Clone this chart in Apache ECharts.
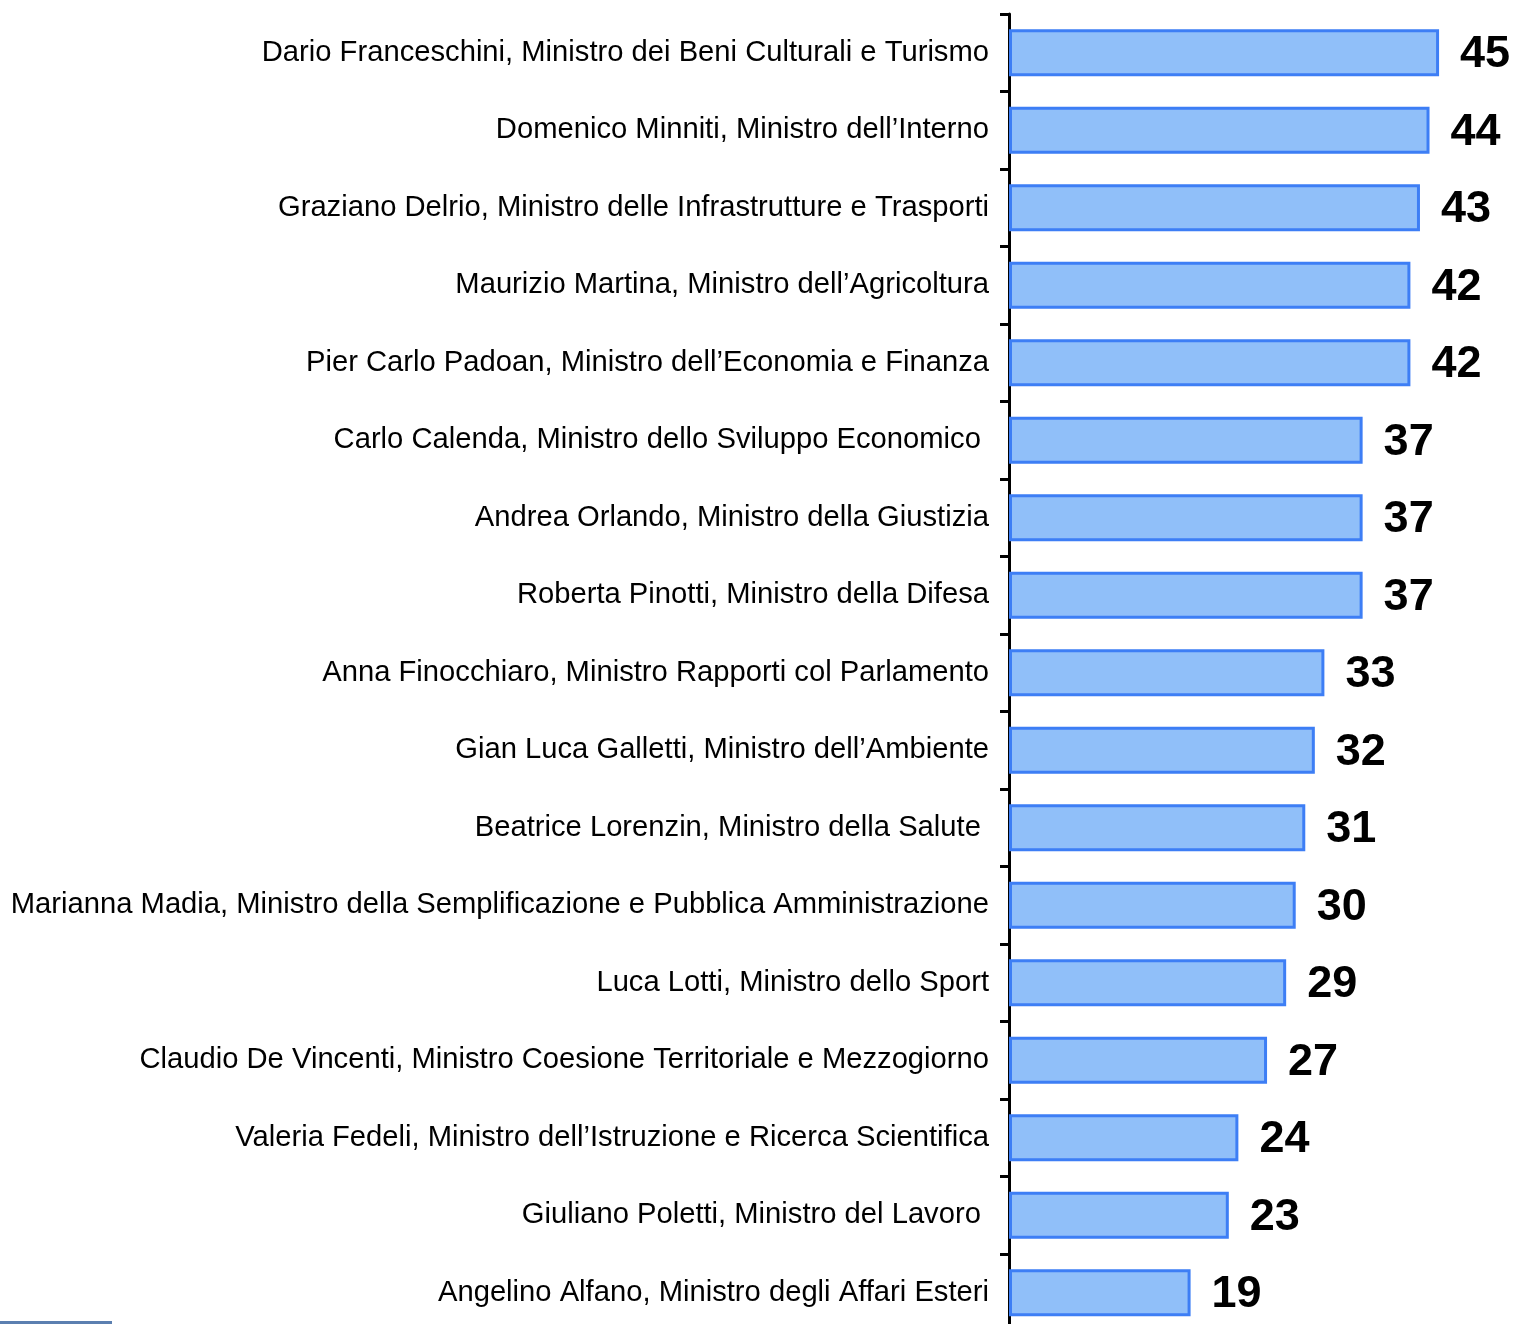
<!DOCTYPE html>
<html>
<head>
<meta charset="utf-8">
<script src="https://cdn.jsdelivr.net/npm/echarts@6/dist/echarts.min.js"></script>
<style>
  html, body { margin: 0; padding: 0; background: #fff; overflow: hidden; }
  #chart { width: 1514px; height: 1340px; }
</style>
</head>
<body>
<div id="chart"></div>
<script>
// ministri (dall'alto verso il basso)
const ministri = [
  'Dario Franceschini, Ministro dei Beni Culturali e Turismo',
  'Domenico Minniti, Ministro dell\u2019Interno',
  'Graziano Delrio, Ministro delle Infrastrutture e Trasporti',
  'Maurizio Martina, Ministro dell\u2019Agricoltura',
  'Pier Carlo Padoan, Ministro dell\u2019Economia e Finanza',
  'Carlo Calenda, Ministro dello Sviluppo Economico ',
  'Andrea Orlando, Ministro della Giustizia',
  'Roberta Pinotti, Ministro della Difesa',
  'Anna Finocchiaro, Ministro Rapporti col Parlamento',
  'Gian Luca Galletti, Ministro dell\u2019Ambiente',
  'Beatrice Lorenzin, Ministro della Salute ',
  'Marianna Madia, Ministro della Semplificazione e Pubblica Amministrazione',
  'Luca Lotti, Ministro dello Sport',
  'Claudio De Vincenti, Ministro Coesione Territoriale e Mezzogiorno',
  'Valeria Fedeli, Ministro dell\u2019Istruzione e Ricerca Scientifica',
  'Giuliano Poletti, Ministro del Lavoro ',
  'Angelino Alfano, Ministro degli Affari Esteri'
]
const fiducia = [45, 44, 43, 42, 42, 37, 37, 37, 33, 32, 31, 30, 29, 27, 24, 23, 19]

const chart = echarts.init(document.getElementById('chart'))

const option = {
  animation: false,
  grid: {
    left: 1009,
    top: 14,
    width: 475,
    height: 1317.5
  },
  xAxis: {
    type: 'value',
    min: 0,
    max: 49.7,
    show: false
  },
  yAxis: {
    type: 'category',
    inverse: true,
    data: ministri,
    axisLine: {lineStyle: {color: '#000', width: 3}},
    axisTick: {show: true, length: 9, lineStyle: {color: '#000', width: 3}},
    axisLabel: {
      margin: 20,
      fontFamily: 'Liberation Sans',
      fontSize: 29.2,
      color: '#000',
      padding: [5, 0, 0, 0]
    }
  },
  series: [{
    type: 'bar',
    data: fiducia,
    barWidth: 47,
    itemStyle: {
      color: '#90bff9',
      borderColor: '#3d7ef5',
      borderWidth: 3
    },
    label: {
      show: true,
      position: 'right',
      distance: 21,
      offset: [0, 2],
      fontFamily: 'Liberation Sans',
      fontWeight: 'bold',
      fontSize: 45,
      color: '#000'
    }
  }],
  graphic: [{
    type: 'rect',
    shape: {x: 0, y: 1321, width: 112, height: 3},
    style: {fill: '#5b7fb0'}
  }]
}

chart.setOption(option)
</script>
</body>
</html>
